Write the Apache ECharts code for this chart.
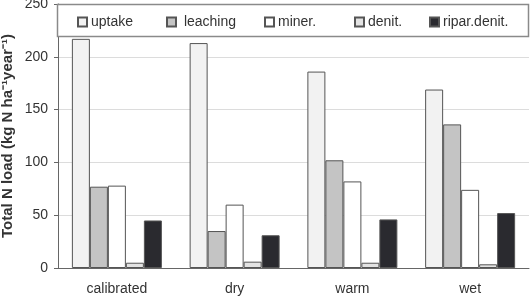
<!DOCTYPE html>
<html>
<head>
<meta charset="utf-8">
<script src="https://cdn.jsdelivr.net/npm/echarts@6/dist/echarts.min.js"></script>
<style>
  html, body { margin: 0; padding: 0; background: #fff; }
  #chart { width: 531px; height: 299px; }
</style>
</head>
<body>
<div id="chart"></div>
<script>
const CATEGORIES = ["calibrated", "dry", "warm", "wet"];
const UPTAKE   = [217, 213, 186, 169];
const LEACHING = [77, 35, 102, 136];
const MINER    = [78, 60, 82, 74];
const DENIT    = [5, 6, 5, 3.5];
const RIPAR    = [45, 31, 46, 52];
const Y_TICKS  = { min: 0, max: 250, interval: 50 };

const SERIES = [
  { name: "uptake",       data: UPTAKE,   color: "#f2f2f2" },
  { name: " leaching",    data: LEACHING, color: "#c4c4c4" },
  { name: "miner.",       data: MINER,    color: "#ffffff" },
  { name: "denit.",       data: DENIT,    color: "#e3e3e3" },
  { name: "ripar.denit.", data: RIPAR,    color: "#2a2a2f" },
];
// left edge of each legend entry (px)
const LEGEND_X = [77, 166, 264, 354, 429];

const FONT = "Liberation Sans, Arial, sans-serif";

const chart = echarts.init(document.getElementById("chart"));
chart.setOption({
  animation: false,
  textStyle: { fontFamily: FONT },
  grid: { left: 58, right: 2, top: 4, bottom: 31, outerBoundsMode: "none", containLabel: false },
  graphic: [{
    type: "rect",
    z: 90,
    shape: { x: 57.5, y: 4.5, width: 471, height: 32 },
    style: { fill: "#fff", stroke: "#8a8a8a", lineWidth: 1.5 },
  }],
  legend: SERIES.map((s, i) => ({
    z: 100,
    left: LEGEND_X[i],
    top: 15,
    padding: 0,
    itemWidth: 9,
    itemHeight: 9,
    itemGap: 4,
    textStyle: { fontFamily: FONT, fontSize: 14, color: "#333", padding: [0, 0, 0, -1] },
    data: [{ name: s.name, icon: "rect" }],
  })),
  xAxis: {
    type: "category",
    data: CATEGORIES,
    axisLine: { lineStyle: { color: "#666" } },
    axisTick: { length: 4, lineStyle: { color: "#666" } },
    axisLabel: { fontSize: 14, color: "#333", margin: 14 },
  },
  yAxis: {
    type: "value",
    ...Y_TICKS,
    name: "Total N load (kg N ha⁻¹year⁻¹)",
    nameLocation: "middle",
    nameGap: 43,
    nameMoveOverlap: false,
    nameTextStyle: { fontSize: 15, fontWeight: "bold", color: "#333" },
    axisLine: { show: true, lineStyle: { color: "#666" } },
    axisTick: { show: true, length: 4, lineStyle: { color: "#666" } },
    axisLabel: { fontSize: 14, color: "#333", margin: 10 },
    splitLine: { lineStyle: { color: "#dcdcdc" } },
  },
  series: SERIES.map(s => ({
    name: s.name,
    type: "bar",
    data: s.data,
    barWidth: 18,
    barGap: "0%",
    itemStyle: { color: s.color, borderColor: "#555", borderWidth: 1 },
  })),
});
</script>
</body>
</html>
